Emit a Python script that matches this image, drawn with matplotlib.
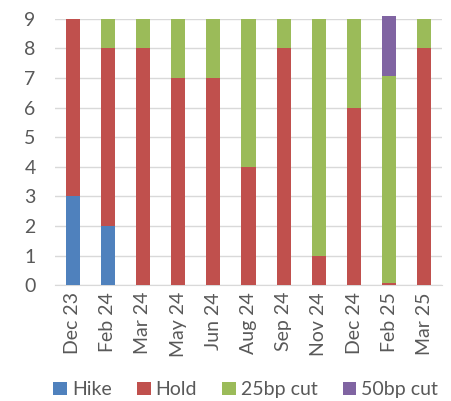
import numpy as np
import matplotlib
matplotlib.use("Agg")
import matplotlib.pyplot as plt

# data
months = ["Dec 23", "Feb 24", "Mar 24", "May 24", "Jun 24", "Aug 24",
          "Sep 24", "Nov 24", "Dec 24", "Feb 25", "Mar 25"]
hike = [3, 2, 0, 0, 0, 0, 0, 0, 0, 0, 0]
hold = [6, 6, 8, 7, 7, 4, 8, 1, 6, 0.08, 8]
cut25 = [0, 1, 1, 2, 2, 5, 1, 8, 3, 7, 1]
cut50 = [0, 0, 0, 0, 0, 0, 0, 0, 0, 2, 0]

series = [("Hike", hike, "#4F81BD"),
          ("Hold", hold, "#C0504D"),
          ("25bp cut", cut25, "#9BBB59"),
          ("50bp cut", cut50, "#8064A2")]

plt.rcParams["font.family"] = ["Lato", "DejaVu Sans"]

fig = plt.figure(figsize=(4.51, 4.01), dpi=100)
ax = fig.add_axes([0.122, 0.289, 0.858, 0.664])

x = np.arange(len(months))
bottom = np.zeros(len(months))
for name, vals, col in series:
    vals = np.array(vals, dtype=float)
    ax.bar(x, vals, 0.4, bottom=bottom, color=col, label=name, zorder=3,
           clip_on=False)
    bottom += vals

ax.set_xlim(-0.5, len(months) - 0.5)
ax.set_ylim(0, 9)
ax.set_yticks(range(10))
ax.set_xticks(x)
ax.set_xticklabels(months, rotation=90)
ax.tick_params(axis="both", length=0, labelsize=14, colors="#595959")
ax.tick_params(axis="y", pad=14)
ax.tick_params(axis="x", pad=5)
ax.grid(axis="y", color="#D9D9D9", linewidth=1, zorder=0)
for s in ["top", "right", "left"]:
    ax.spines[s].set_visible(False)
ax.spines["bottom"].set_color("#D9D9D9")

leg = fig.legend(loc="center", bbox_to_anchor=(0.545, 0.028), ncol=4,
                 frameon=False, fontsize=14, handlelength=0.7,
                 handleheight=0.7, handletextpad=0.25, columnspacing=1.3)
for t in leg.get_texts():
    t.set_color("#595959")

fig.savefig("out.png", dpi=100)
